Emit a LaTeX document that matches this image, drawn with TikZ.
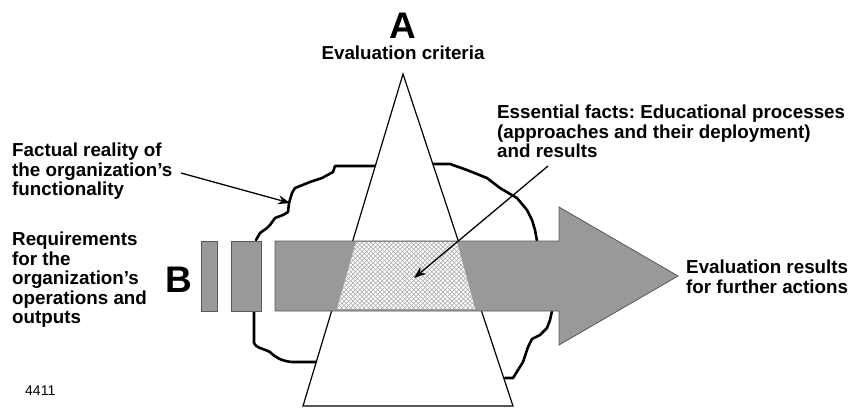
\documentclass[tikz,border=0pt]{standalone}
\usepackage{fontspec}
\setmainfont{Liberation Sans}
\usetikzlibrary{arrows.meta}
\frenchspacing
\begin{document}
\begin{tikzpicture}[x=1pt,y=-1pt,
  lbl/.style={font=\bfseries\fontsize{18.8}{19.5}\selectfont, align=left, anchor=north west, inner sep=0pt},
  bigletter/.style={font=\bfseries\fontsize{37}{37}\selectfont, anchor=base, inner sep=0pt},
  shaftstyle/.style={fill=black!40, draw=black!65, line width=0.8pt},
  blobline/.style={line width=2.6pt, line join=round, line cap=round},
  triline/.style={line width=1.2pt},
  pointer/.style={line width=1.3pt, -{Stealth[length=12pt,width=9pt]}},
  hatchline/.style={draw=black!35, line width=0.45pt}]
\useasboundingbox (0,0) rectangle (858,408);

% triangle (evaluation criteria)
\coordinate (apex) at (403,74);
\coordinate (baseL) at (303,406);
\coordinate (baseR) at (513,406);
\draw[triline, line join=miter] (apex) -- (baseL) -- (baseR) -- cycle;

% factual reality blob
\draw[blobline] (375,166) -- (335,166) -- (333,172) -- (322,178) -- (310,182) -- (295,188)
  -- (292,193) -- (289,203) -- (288,212) -- (283,215) -- (275,218) -- (270,225)
  -- (267,228) -- (260,233) -- (256,240);
\draw[blobline] (254,312) -- (254,343) .. controls (256,348) and (262,348) .. (270,352)
  .. controls (276,358) and (282,361) .. (292,362) -- (316,362);
\draw[blobline] (433,164) -- (450,164) -- (467,170) -- (487,178) -- (500,188) -- (517,198)
  -- (527,210) -- (532,220) -- (535,230) -- (537,241);
\draw[blobline] (505,378) -- (513,378) -- (518,370) -- (523,362) -- (528,347) -- (532,339)
  -- (540,335) -- (547,328) -- (550,320) -- (552,311);

% requirements arrow
\path[shaftstyle] (201,241) rectangle (217,311);
\path[shaftstyle] (231,241) rectangle (261,311);
\path[shaftstyle] (275,241) -- (559,241) -- (559,207) -- (678,276) -- (559,345) -- (559,311) -- (275,311) -- cycle;

% hatched essential facts
\begin{scope}
  \clip (356,242) -- (457,242) -- (475,309) -- (337,309) -- cycle;
  \fill[white] (330,235) rectangle (480,315);
  \foreach \k in {-160,-155.5,...,160} {
    \draw[hatchline] (330+\k,235) -- ++(90,90);
    \draw[hatchline] (480+\k,235) -- ++(-90,90);
  }
\end{scope}

% labels
\node[bigletter] (A) at (403,38) {A};
\node[font=\bfseries\fontsize{18.8}{19.5}\selectfont, anchor=base, inner sep=0pt] (crit) at (403,59) {Evaluation criteria};
\node[lbl] (fact) at (12,143) {Factual reality of\\the organization’s\\functionality};
\node[lbl] (ess) at (497,105) {Essential facts: Educational processes\\(approaches and their deployment)\\and results};
\node[lbl] (req) at (12,232) {Requirements\\for the\\organization’s\\operations and\\outputs};
\node[bigletter] (B) at (179,292) {B};
\node[lbl] (res) at (686,260) {Evaluation results\\for further actions};
\node[font=\fontsize{14}{16}\selectfont, anchor=base west, inner sep=0pt] (num) at (25,395) {4411};

% pointers
\coordinate (factstart) at (181,173);
\coordinate (factend) at (290,203);
\coordinate (essstart) at (548,166);
\coordinate (essend) at (414,278);
\draw[pointer] (factstart) -- (factend);
\draw[pointer] (essstart) -- (essend);
\end{tikzpicture}
\end{document}
